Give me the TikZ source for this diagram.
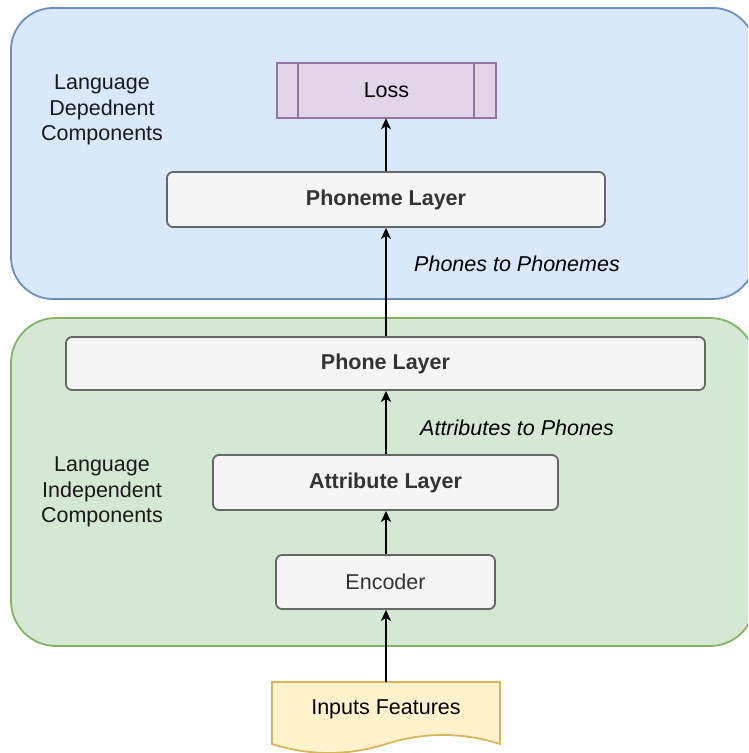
\documentclass[tikz,border=0pt]{standalone}
\usepackage{fontspec}
\setmainfont{Liberation Sans}
\usetikzlibrary{arrows.meta}
\definecolor{blueF}{HTML}{DAE8FC}
\definecolor{blueS}{HTML}{6C8EBF}
\definecolor{greenF}{HTML}{D5E8D4}
\definecolor{greenS}{HTML}{82B366}
\definecolor{purF}{HTML}{E1D5E7}
\definecolor{purS}{HTML}{9673A6}
\definecolor{grayF}{HTML}{F5F5F5}
\definecolor{grayS}{HTML}{666666}
\definecolor{yelF}{HTML}{FFF2CC}
\definecolor{yelS}{HTML}{D6B656}
\definecolor{txtG}{HTML}{333333}
\tikzset{
  every node/.style={font=\fontsize{21.5}{25.5}\selectfont, inner sep=0pt},
  layerbox/.style={draw=grayS, fill=grayF, line width=1.8pt, rounded corners=6pt, text=txtG},
  conn/.style={line width=1.8pt, -{Stealth[length=11pt,width=10pt,inset=3pt]}},
  lbl/.style={align=center, text=black!90},
}
\begin{document}
\begin{tikzpicture}[x=1pt,y=-1pt]
\useasboundingbox (0,0) rectangle (748,753);
\clip (0,0) rectangle (748,753);
% containers
\draw[fill=blueF, draw=blueS, line width=1.8pt, rounded corners=42pt] (11,8) rectangle (755,299);
\draw[fill=greenF, draw=greenS, line width=1.8pt, rounded corners=45pt] (11,318) rectangle (755,646);
% labels
\node[lbl] (ldc) at (102,110) {Language\\Depednent\\Components};
\node[lbl] (lic) at (102,492) {Language\\Independent\\Components};
% loss
\draw[fill=purF, draw=purS, line width=1.8pt] (277,63) rectangle (496,118);
\draw[draw=purS, line width=1.8pt] (298,63) -- (298,118) (474,63) -- (474,118);
\node[minimum width=219pt, minimum height=55pt] (loss) at (386.5,90.5) {Loss};
% layers
\node[layerbox, minimum width=438pt, minimum height=55pt] (phoneme) at (386,199.5) {\bfseries Phoneme Layer};
\node[layerbox, minimum width=639pt, minimum height=53pt] (phone) at (385.5,363.5) {\bfseries Phone Layer};
\node[layerbox, minimum width=345pt, minimum height=55pt] (attr) at (385.5,482.5) {\bfseries Attribute Layer};
\node[layerbox, minimum width=219pt, minimum height=54pt] (enc) at (385.5,582) {Encoder};
% inputs document shape
\draw[fill=yelF, draw=yelS, line width=1.8pt]
  (272,682) -- (500,682) -- (500,744)
  .. controls (462,732) and (424,732) .. (386,744)
  .. controls (348,756) and (310,756) .. (272,744) -- cycle;
\node (inp) at (386,709) {Inputs Features};
\coordinate (inpTop) at (386,682);
% edge labels
\node[font=\fontsize{21.5}{25.5}\selectfont\itshape] (p2p) at (517,264) {Phones to Phonemes};
\node[font=\fontsize{21.5}{25.5}\selectfont\itshape] (a2p) at (517,428) {Attributes to Phones};
% connectors
\draw[conn] (inpTop) -- (enc.south -| inpTop);
\draw[conn] (enc.north -| inpTop) -- (attr.south -| inpTop);
\draw[conn] (attr.north -| inpTop) -- (phone.south -| inpTop);
\draw[conn] (phone.north -| inpTop) -- (phoneme.south -| inpTop);
\draw[conn] (phoneme.north -| inpTop) -- (loss.south -| inpTop);
\end{tikzpicture}
\end{document}
